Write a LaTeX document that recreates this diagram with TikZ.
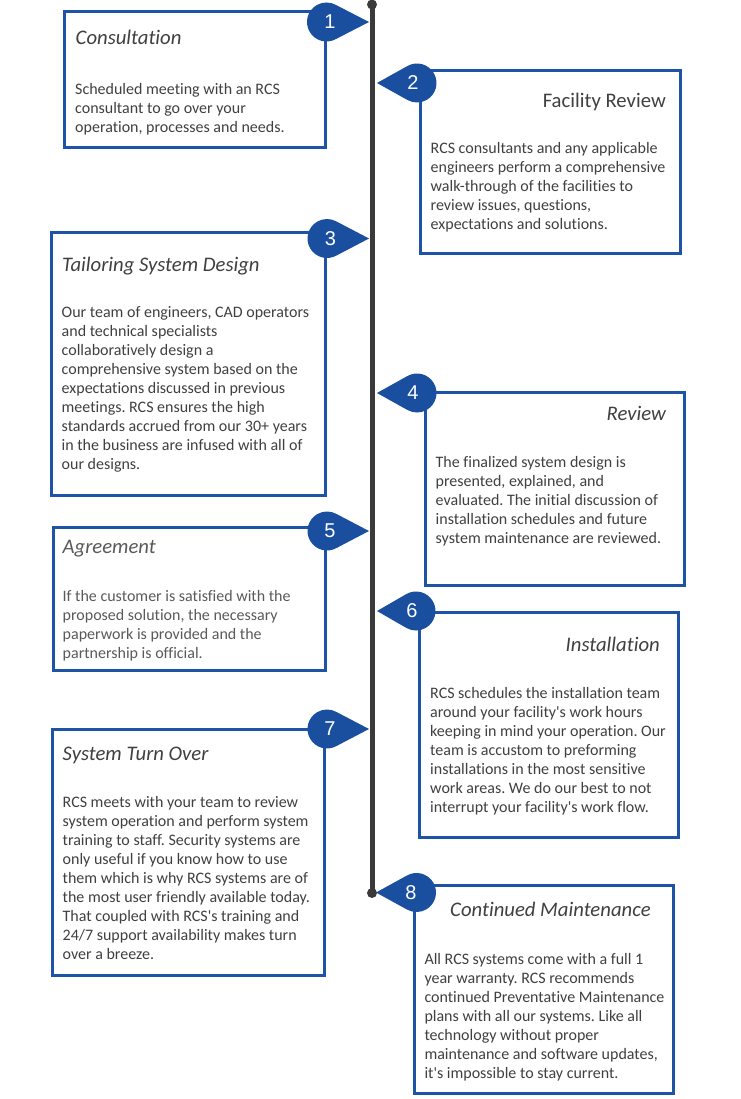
\documentclass[tikz,border=0pt]{standalone}
\usepackage{fontspec}
\setmainfont{Carlito}[Ligatures={TeXOff,NoCommon}]
\newfontfamily\numfont{Liberation Sans}
\frenchspacing
\definecolor{rcsblue}{HTML}{1D54A6}
\definecolor{badgeblue}{HTML}{1A4FA0}
\definecolor{linegray}{HTML}{3A3A3A}
\definecolor{txtgray}{HTML}{404040}
\definecolor{softgray}{HTML}{5A5A5A}
\begin{document}
\begin{tikzpicture}[x=1pt,y=-1pt,
  card/.style={draw=rcsblue, line width=3pt, fill=white, inner sep=0pt, outer sep=0pt, anchor=north west},
  bodytext/.style={font=\fontsize{16}{19}\selectfont, text=txtgray, align=left, anchor=north west, inner sep=0pt},
  ttl/.style={font=\fontsize{20.7}{24}\selectfont\itshape, text=txtgray, inner sep=0pt, anchor=base west},
  num/.style={font=\numfont\fontsize{20}{24}\selectfont, text=white, inner sep=0pt},
  badge/.style={fill=badgeblue},
  dot/.style={circle, fill=linegray, inner sep=0pt, minimum size=10pt}]
\useasboundingbox (0,0) rectangle (740,1099);
\fill[white] (0,0) rectangle (740,1099);

% ---------- cards ----------
\node[card, minimum width=261pt, minimum height=136.5pt] (b1) at (64.5,11.5) {};
\node[card, minimum width=260pt, minimum height=182.5pt] (b2) at (420.5,70.5) {};
\node[card, minimum width=273.5pt, minimum height=262.5pt] (b3) at (51.5,233) {};
\node[card, minimum width=259pt, minimum height=193pt] (b4) at (425.5,392) {};
\node[card, minimum width=272pt, minimum height=143pt] (b5) at (53.5,527.5) {};
\node[card, minimum width=259pt, minimum height=224.5pt] (b6) at (419.5,612.5) {};
\node[card, minimum width=272pt, minimum height=246pt] (b7) at (52.5,729.5) {};
\node[card, minimum width=259pt, minimum height=208pt] (b8) at (414.5,885.5) {};

% ---------- titles ----------
\node[ttl] (t1) at (75.5,45) {Consultation};
\node[ttl, font=\fontsize{20.7}{24}\selectfont, anchor=base east] (t2) at (666,107.7) {Facility Review};
\node[ttl] (t3) at (62,271) {Tailoring System Design};
\node[ttl, anchor=base east] (t4) at (666,420.7) {Review};
\node[ttl, text=softgray] (t5) at (62.5,553.3) {Agreement};
\node[ttl, anchor=base east] (t6) at (660,651) {Installation};
\node[ttl] (t7) at (62.5,760) {System Turn Over};
\node[ttl] (t8) at (450,916.7) {Continued Maintenance};

% ---------- body texts ----------
\node[bodytext] (d1) at (75,81) {\strut Scheduled meeting with an RCS\\consultant to go over your\\operation, processes and needs.};
\node[bodytext] (d2) at (430.5,140) {\strut RCS consultants and any applicable\\engineers perform a comprehensive\\walk-through of the facilities to\\review issues, questions,\\expectations and solutions.};
\node[bodytext] (d3) at (61.5,304.4) {\strut Our team of engineers, CAD operators\\and technical specialists\\collaboratively design a\\comprehensive system based on the\\expectations discussed in previous\\meetings. RCS ensures the high\\standards accrued from our 30+ years\\in the business are infused with all of\\our designs.};
\node[bodytext] (d4) at (435.5,454.4) {\strut The finalized system design is\\presented, explained, and\\evaluated. The initial discussion of\\installation schedules and future\\system maintenance are reviewed.};
\node[bodytext, text=softgray] (d5) at (62.5,588.4) {\strut If the customer is satisfied with the\\proposed solution, the necessary\\paperwork is provided and the\\partnership is official.};
\node[bodytext] (d6) at (430,685) {\strut RCS schedules the installation team\\around your facility's work hours\\keeping in mind your operation. Our\\team is accustom to preforming\\installations in the most sensitive\\work areas. We do our best to not\\interrupt your facility's work flow.};
\node[bodytext] (d7) at (62.5,794) {\strut RCS meets with your team to review\\system operation and perform system\\training to staff. Security systems are\\only useful if you know how to use\\them which is why RCS systems are of\\the most user friendly available today.\\That coupled with RCS's training and\\24/7 support availability makes turn\\over a breeze.};
\node[bodytext] (d8) at (424.3,950.7) {\strut All RCS systems come with a full 1\\year warranty. RCS recommends\\continued Preventative Maintenance\\plans with all our systems. Like all\\technology without proper\\maintenance and software updates,\\it's impossible to stay current.};

% ---------- timeline ----------
\node[dot] (ttop) at (372,4.5) {};
\node[dot] (tbot) at (372,893) {};
\draw[line width=5pt, linegray] (ttop.center) -- (tbot.center);

% ---------- badges (teardrops pointing to the timeline) ----------
\foreach \cx/\cy/\tx/\n/\nx in {326.5/22/369/1/330, 327/238.5/369/3/330.5, 327/531/369/5/330, 327/729/369/7/330}{
  \fill[badge] (\cx,\cy) ++(60:19.5) arc[start angle=60, end angle=300, radius=19.5] -- (\tx,\cy) -- cycle;
  \node[num] (n\n) at (\nx,\cy) {\n};
}
\foreach \cx/\cy/\tx/\n/\nx in {417/83/377/2/413, 417/393/377/4/413, 416/611/377/6/412, 416.5/892.5/376/8/411}{
  \fill[badge] (\cx,\cy) ++(240:19.5) arc[start angle=240, end angle=480, radius=19.5] -- (\tx,\cy) -- cycle;
  \node[num] (n\n) at (\nx,\cy) {\n};
}
\end{tikzpicture}
\end{document}
